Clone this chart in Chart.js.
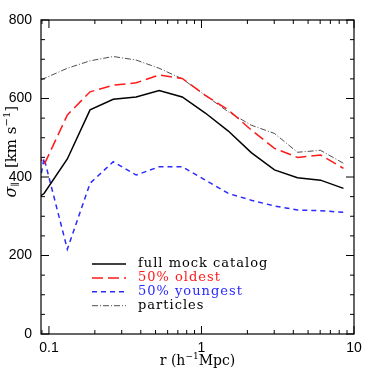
<!DOCTYPE html>
<html lang="en">
<head>
<meta charset="UTF-8">
<title>sigma parallel vs r</title>
<script src="https://cdn.jsdelivr.net/npm/chart.js"></script>
<style>
  html, body { margin: 0; padding: 0; background: #fff; }
</style>
</head>
<body>
<canvas id="chart" width="374" height="374"></canvas>
<script>
// separation bins (h^-1 Mpc); first bin sits just left of the axis and gets clipped
const radius = [0.0657, 0.0929, 0.132, 0.186, 0.264, 0.373, 0.528, 0.748, 1.06, 1.50, 2.12, 3.01, 4.26, 6.03, 8.53];
const fullMock = [316, 358, 446, 571, 598, 604, 620, 604, 563, 517, 462, 418, 398, 392, 371];
const oldest = [536, 431, 558, 617, 634, 640, 660, 651, 608, 571, 520, 473, 450, 456, 422];
const youngest = [116, 448, 216, 384, 439, 405, 426, 426, 392, 358, 341, 326, 316, 314, 310];
const particles = [624, 651, 677, 696, 707, 698, 677, 650, 608, 566, 532, 511, 463, 468, 435];
const seriesNames = ['full mock catalog', '50% oldest', '50% youngest', 'particles'];
const xTickLabels = [0.1, 1, 10];
const yTickLabels = [0, 200, 400, 600, 800];

const toPoints = ys => ys.map((v, i) => ({ x: radius[i], y: v }));

const serif = '"DejaVu Serif", serif';
const sans = '"Liberation Sans", Arial, sans-serif';

function seg(ctx, x1, y1, x2, y2) {
    ctx.beginPath();
    ctx.moveTo(x1, y1);
    ctx.lineTo(x2, y2);
    ctx.stroke();
}

// draws a run of text pieces left to right, pieces may be raised or lowered
function drawRuns(ctx, runs, cx, cy) {
    let total = 0;
    runs.forEach(r => { ctx.font = r.font; r.w = ctx.measureText(r.t).width; total += r.w; });
    let x = cx - total / 2;
    runs.forEach(r => {
        ctx.font = r.font;
        ctx.fillText(r.t, x, cy + (r.dy || 0));
        x += r.w;
    });
}

const framePlugin = {
    id: 'frame',
    afterDraw(chart) {
        const { ctx, chartArea: a, scales } = chart;
        const xs = scales.x, ys = scales.y;
        ctx.save();
        ctx.strokeStyle = '#000';
        ctx.setLineDash([]);
        ctx.lineWidth = 1.2;
        ctx.strokeRect(a.left, a.top, a.right - a.left, a.bottom - a.top);

        // inward ticks, all four sides
        ctx.lineWidth = 1;
        for (let e = -2; e <= 1; e++) {
            for (let m = 1; m <= 9; m++) {
                const v = m * Math.pow(10, e);
                if (v < xs.min || v > xs.max) continue;
                const px = xs.getPixelForValue(v);
                const len = m === 1 ? 8 : 4;
                seg(ctx, px, a.bottom, px, a.bottom - len);
                seg(ctx, px, a.top, px, a.top + len);
            }
        }
        for (let v = 0; v <= 800; v += 50) {
            const py = ys.getPixelForValue(v);
            const len = v % 200 === 0 ? 8 : 4;
            seg(ctx, a.left, py, a.left + len, py);
            seg(ctx, a.right, py, a.right - len, py);
        }

        // axis titles
        ctx.fillStyle = '#000';
        ctx.textBaseline = 'middle';
        ctx.textAlign = 'left';
        drawRuns(ctx, [
            { t: 'r (h', font: '14px ' + serif },
            { t: '\u22121', font: '9px ' + serif, dy: -4 },
            { t: 'Mpc)', font: '14px ' + serif }
        ], (a.left + a.right) / 2, 361);

        // y title: sigma below the 400 label, unit bracket between 400 and 600
        ctx.save();
        ctx.translate(12, 190);
        ctx.rotate(-Math.PI / 2);
        drawRuns(ctx, [
            { t: '\u03c3', font: 'italic 16px ' + serif },
            { t: '\u2225', font: '9px ' + serif, dy: 4 }
        ], 0, 0);
        ctx.restore();
        ctx.save();
        ctx.translate(12, 137);
        ctx.rotate(-Math.PI / 2);
        drawRuns(ctx, [
            { t: '[km s', font: '15px ' + serif },
            { t: '\u22121', font: '10px ' + serif, dy: -5 },
            { t: ']', font: '15px ' + serif }
        ], 0, 0);
        ctx.restore();

        // legend inside the plot
        ctx.font = '13px ' + serif;
        ctx.letterSpacing = '1px';
        chart.data.datasets.forEach((ds, i) => {
            const y = 264 + i * 13.9;
            ctx.strokeStyle = ds.borderColor;
            ctx.lineWidth = ds.borderWidth;
            ctx.setLineDash(ds.borderDash || []);
            seg(ctx, 92, y, 126, y);
            ctx.setLineDash([]);
            ctx.fillStyle = ds.textColor;
            ctx.fillText(ds.label, 138, y);
        });
        ctx.restore();
    }
};

new Chart(document.getElementById('chart'), {
    type: 'line',
    data: {
        datasets: [
            { label: seriesNames[0], data: toPoints(fullMock), borderColor: '#000', textColor: '#000', borderWidth: 1.5, borderDash: [] },
            { label: seriesNames[1], data: toPoints(oldest), borderColor: '#ff1a1a', textColor: '#ff1a1a', borderWidth: 1.5, borderDash: [11, 5] },
            { label: seriesNames[2], data: toPoints(youngest), borderColor: '#2a2aff', textColor: '#2a2aff', borderWidth: 1.5, borderDash: [5, 4] },
            { label: seriesNames[3], data: toPoints(particles), borderColor: '#222', textColor: '#000', borderWidth: 0.8, borderDash: [6, 2, 1, 2] }
        ]
    },
    options: {
        responsive: false,
        animation: false,
        devicePixelRatio: 1,
        layout: { padding: { top: 20, right: 20, left: 0, bottom: 0 } },
        elements: { point: { radius: 0 }, line: { tension: 0, fill: false } },
        datasets: { line: { clip: 0 } },
        plugins: { legend: { display: false }, tooltip: { enabled: false } },
        scales: {
            x: {
                type: 'logarithmic',
                min: 0.0887,
                max: 10,
                afterFit: s => { s.height = 40; },
                afterBuildTicks: s => { s.ticks = xTickLabels.map(v => ({ value: v })); },
                ticks: { autoSkip: false, maxRotation: 0, padding: 6, color: '#000', font: { family: sans, size: 14 }, callback: v => String(v) },
                grid: { display: false, drawTicks: false },
                border: { display: false }
            },
            y: {
                min: 0,
                max: 800,
                afterFit: s => { s.width = 41; },
                afterBuildTicks: s => { s.ticks = yTickLabels.map(v => ({ value: v })); },
                ticks: { padding: 9, color: '#000', font: { family: sans, size: 14 } },
                grid: { display: false, drawTicks: false },
                border: { display: false }
            }
        }
    },
    plugins: [framePlugin]
});
</script>
</body>
</html>
